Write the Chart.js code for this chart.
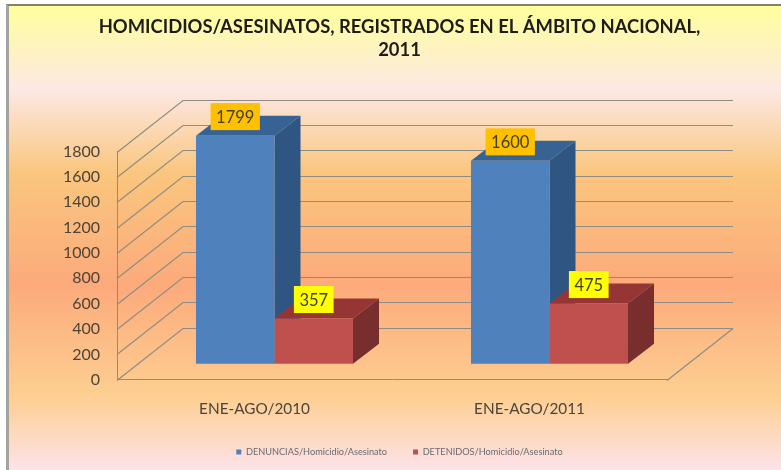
<!DOCTYPE html>
<html lang="es">
<head>
    <meta charset="UTF-8">
    <title>Homicidios/Asesinatos 2011</title>
    <script src="https://cdn.jsdelivr.net/npm/chart.js"></script>
    <style>
        html, body {
            margin: 0;
            background: #ffffff;
        }
        #frame {
            position: absolute;
            left: 6px;
            top: 4px;
            width: 775px;
            height: 466px;
            box-sizing: border-box;
            border-left: 3px solid #a3a3a0;
            border-top: 2px solid #85806e;
        }
        #wrap {
            position: absolute;
            left: 0;
            top: 0;
            width: 781px;
            height: 470px;
        }
    </style>
</head>
<body>
    <div id="frame"></div>
    <div id="wrap"><canvas id="chart" width="781" height="470"></canvas></div>

    <script>
        const categories = ["ENE-AGO/2010", "ENE-AGO/2011"];
        const denuncias = [1799, 1600];
        const detenidos = [357, 475];
        const yTicks = [0, 200, 400, 600, 800, 1000, 1200, 1400, 1600, 1800];

        // Profundidad de la perspectiva, en pixeles
        const wallDepth = { x: 66, y: -52 };
        const barOffset = { x: 20, y: -16 };
        const barDepth = { x: 26, y: -20 };

        const sideColors = ["#2f5583", "#772e2c"];
        const topColors = ["#376394", "#953634"];
        const labelColors = ["#ffc000", "#ffff00"];
        const gridColor = "#8f8c84";

        // Fondo de la diapositiva
        const backgroundPlugin = {
            id: "background",
            beforeDraw(chart) {
                const ctx = chart.ctx;
                const g = ctx.createLinearGradient(0, 6, 0, 470);
                g.addColorStop(0, "#ffff9c");
                g.addColorStop(0.18, "#fde8e4");
                g.addColorStop(0.36, "#fac67e");
                g.addColorStop(0.6, "#fcaa7b");
                g.addColorStop(0.84, "#fdcf91");
                g.addColorStop(1, "#fde2ea");
                ctx.save();
                ctx.fillStyle = g;
                ctx.fillRect(9, 6, 772, 464);
                ctx.restore();
            }
        };

        function poly(ctx, points, color) {
            ctx.fillStyle = color;
            ctx.beginPath();
            points.forEach((p, i) => i ? ctx.lineTo(p[0], p[1]) : ctx.moveTo(p[0], p[1]));
            ctx.closePath();
            ctx.fill();
        }

        // Paredes, suelo y caras laterales; la cara frontal la dibuja Chart.js
        const depthPlugin = {
            id: "depth",
            beforeDatasetsDraw(chart) {
                const ctx = chart.ctx;
                const area = chart.chartArea;
                const yScale = chart.scales.y;

                ctx.save();
                ctx.strokeStyle = gridColor;
                ctx.lineWidth = 1.2;
                ctx.beginPath();
                yTicks.forEach(v => {
                    const y = Math.round(yScale.getPixelForValue(v)) + 0.5;
                    ctx.moveTo(area.left, y);
                    ctx.lineTo(area.left + wallDepth.x, y + wallDepth.y);
                    ctx.lineTo(area.right + wallDepth.x, y + wallDepth.y);
                });
                const by = Math.round(area.bottom) + 0.5;
                ctx.moveTo(area.right, by);
                ctx.lineTo(area.right + wallDepth.x, by + wallDepth.y);
                ctx.stroke();
                ctx.restore();

                chart.data.datasets.forEach((ds, d) => {
                    chart.getDatasetMeta(d).data.forEach(bar => {
                        const r = bar.x + bar.width / 2 + barOffset.x;
                        const l = bar.x - bar.width / 2 + barOffset.x;
                        const t = bar.y + barOffset.y;
                        const b = bar.base + barOffset.y;
                        poly(ctx, [[r, t], [r + barDepth.x, t + barDepth.y], [r + barDepth.x, b + barDepth.y], [r, b]], sideColors[d]);
                        poly(ctx, [[l, t], [l + barDepth.x, t + barDepth.y], [r + barDepth.x, t + barDepth.y], [r, t]], topColors[d]);
                    });
                });

                ctx.save();
                ctx.translate(barOffset.x, barOffset.y);
            },
            afterDatasetsDraw(chart) {
                const ctx = chart.ctx;
                ctx.restore();

                // Etiquetas de valor
                ctx.save();
                ctx.font = "16.5px Lato";
                ctx.textAlign = "center";
                ctx.textBaseline = "middle";
                chart.data.datasets.forEach((ds, d) => {
                    chart.getDatasetMeta(d).data.forEach((bar, i) => {
                        const text = String(ds.data[i]);
                        const w = ctx.measureText(text).width + 11;
                        const cx = bar.x + barOffset.x;
                        const cy = bar.y + barOffset.y - 19;
                        ctx.fillStyle = labelColors[d];
                        ctx.fillRect(cx - w / 2, cy - 13.5, w, 27);
                        ctx.fillStyle = "#42401f";
                        ctx.fillText(text, cx, cy + 1);
                    });
                });
                ctx.restore();
            }
        };

        new Chart(document.getElementById("chart"), {
            type: "bar",
            data: {
                labels: categories,
                datasets: [
                    { label: "DENUNCIAS/Homicidio/Asesinato", data: denuncias, backgroundColor: "#4f81bd", clip: false },
                    { label: "DETENIDOS/Homicidio/Asesinato", data: detenidos, backgroundColor: "#c0504d", clip: false }
                ]
            },
            plugins: [backgroundPlugin, depthPlugin],
            options: {
                responsive: false,
                animation: false,
                barPercentage: 1,
                categoryPercentage: 0.571,
                layout: { padding: { top: 4, left: 18, right: 0, bottom: 3.5 } },
                scales: {
                    x: {
                        afterFit(scale) {
                            scale.height = 41.5;
                        },
                        grid: { display: false },
                        border: { color: gridColor },
                        ticks: { color: "#4d4337", font: { family: "Lato", size: 15.3 }, padding: 12 }
                    },
                    y: {
                        min: 0,
                        max: 1800,
                        afterBuildTicks(scale) {
                            scale.ticks = yTicks.map(v => ({ value: v }));
                        },
                        afterFit(scale) {
                            scale.width = 99;
                        },
                        grid: { display: false },
                        border: { color: gridColor },
                        ticks: {
                            color: "#4d4337",
                            font: { family: "Lato", size: 16 },
                            padding: 9,
                            callback: v => String(v)
                        }
                    },
                    // reserva el margen derecho sin descentrar titulo y leyenda
                    rightSpace: {
                        position: "right",
                        display: true,
                        grid: { display: false },
                        border: { display: false },
                        ticks: { display: false },
                        afterFit(scale) {
                            scale.width = 114;
                        }
                    }
                },
                plugins: {
                    title: {
                        display: true,
                        text: ["HOMICIDIOS/ASESINATOS, REGISTRADOS EN EL ÁMBITO NACIONAL,", "2011"],
                        color: "#1f1c18",
                        font: { family: "Lato", size: 18.4, weight: "bold", lineHeight: 1.25 },
                        padding: { top: 12, bottom: 89.5 }
                    },
                    legend: {
                        position: "bottom",
                        labels: {
                            color: "#6a6a70",
                            boxWidth: 5,
                            boxHeight: 5,
                            padding: 26,
                            font: { family: "Lato", size: 9.2 }
                        }
                    },
                    tooltip: { enabled: false }
                }
            }
        });
    </script>
</body>
</html>
